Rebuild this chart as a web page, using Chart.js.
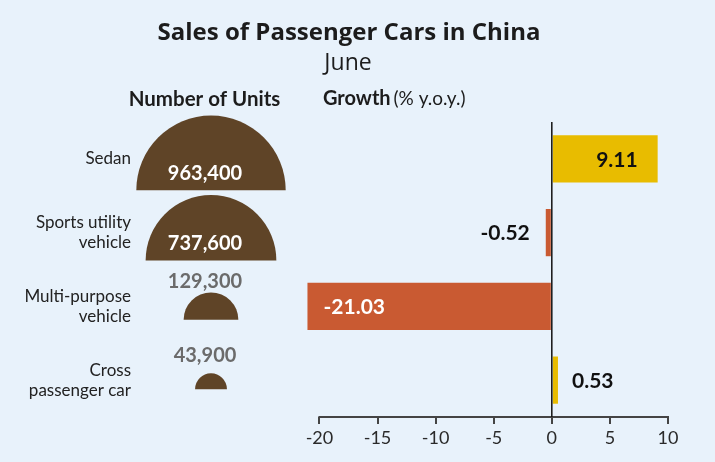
<!DOCTYPE html>
<html>
<head>
<meta charset="utf-8">
<script src="https://cdn.jsdelivr.net/npm/chart.js@4.4.0/dist/chart.umd.min.js"></script>
<style>
  html, body { margin: 0; padding: 0; background: #e8f2fb; }
  #wrap { width: 715px; height: 462px; }
</style>
</head>
<body>
<div id="wrap"><canvas id="myChart" width="715" height="462"></canvas></div>
<script>
// chart data
const categories = [['Sedan'], ['Sports utility', 'vehicle'], ['Multi-purpose', 'vehicle'], ['Cross', 'passenger car']];
const units = [963400, 737600, 129300, 43900];
const growth = [9.11, -0.52, -21.03, 0.53];
const xTicks = [-20, -15, -10, -5, 0, 5, 10];

const BG = '#e8f2fb';
const YELLOW = '#e8bc00';
const ORANGE = '#c95a32';
const BROWN = '#5f4427';
const FONT = 'Lato, "Liberation Sans", sans-serif';
const UNIT_X = 211;     // centre of the half circles
const UNIT_LABEL_X = 205;
const R_MAX = 74.7;     // radius of the largest half circle

// title, headers and background
const textPlugin = {
    id: 'texts',
    beforeDraw(chart){
        const ctx = chart.ctx;
        ctx.save();
        ctx.fillStyle = BG;
        ctx.fillRect(0, 0, chart.width, chart.height);
        ctx.fillStyle = '#1c1c1c';
        ctx.textBaseline = 'middle';
        ctx.textAlign = 'center';
        ctx.font = 'bold 24px "Open Sans", sans-serif';
        ctx.fillText('Sales of Passenger Cars in China', 349, 33);
        ctx.font = '23px "Open Sans", sans-serif';
        ctx.fillText('June', 348, 63);
        ctx.font = 'bold 20.5px ' + FONT;
        ctx.fillText('Number of Units', 204.5, 99);
        ctx.textAlign = 'left';
        ctx.font = 'bold 20px ' + FONT;
        ctx.fillText('Growth', 323, 99);
        const w = ctx.measureText('Growth ').width;
        ctx.font = '19px ' + FONT;
        ctx.fillText('(% y.o.y.)', 323 + w - 2, 99);
        ctx.restore();
    }
};

// half circles for number of units
const unitPlugin = {
    id: 'units',
    afterDraw(chart){
        const ctx = chart.ctx;
        const yScale = chart.scales.y;
        const maxU = Math.max(...units);
        ctx.save();
        units.forEach((u, i) => {
            const r = R_MAX * Math.sqrt(u / maxU);
            const cy = yScale.getPixelForValue(i);
            const base = cy + 0.38 * r + 3;
            ctx.beginPath();
            ctx.arc(UNIT_X, base, r, Math.PI, 0);
            ctx.closePath();
            ctx.fillStyle = BROWN;
            ctx.fill();
            ctx.textAlign = 'center';
            ctx.textBaseline = 'middle';
            ctx.font = 'bold 20px ' + FONT;
            const txt = u.toLocaleString('en-US');
            if(r > 40){
                ctx.fillStyle = '#ffffff';
                ctx.fillText(txt, UNIT_LABEL_X, base - 17);
            } else {
                ctx.fillStyle = '#6b6b6b';
                ctx.fillText(txt, UNIT_LABEL_X, cy - 24.5);
            }
        });
        ctx.restore();
    }
};

// zero line, axis line and bar values
const barPlugin = {
    id: 'barLabels',
    afterDatasetsDraw(chart){
        const ctx = chart.ctx;
        const xScale = chart.scales.x;
        const area = chart.chartArea;
        ctx.save();
        ctx.strokeStyle = '#444444';
        ctx.lineWidth = 2;
        ctx.beginPath();
        ctx.moveTo(xScale.getPixelForValue(xTicks[0]) - 1, area.bottom);
        ctx.lineTo(xScale.getPixelForValue(xTicks[xTicks.length - 1]) + 1, area.bottom);
        ctx.stroke();

        const x0 = xScale.getPixelForValue(0);
        ctx.strokeStyle = '#111111';
        ctx.lineWidth = 1.5;
        ctx.beginPath();
        ctx.moveTo(x0, area.top);
        ctx.lineTo(x0, area.bottom);
        ctx.stroke();

        ctx.font = 'bold 21px ' + FONT;
        ctx.textBaseline = 'middle';
        chart.getDatasetMeta(0).data.forEach((bar, i) => {
            const v = growth[i];
            const txt = v.toFixed(2);
            if(Math.abs(v) > 5){
                if(v > 0){
                    ctx.textAlign = 'right';
                    ctx.fillStyle = '#111111';
                    ctx.fillText(txt, bar.x - 20, bar.y + 1);
                } else {
                    ctx.textAlign = 'left';
                    ctx.fillStyle = '#ffffff';
                    ctx.fillText(txt, bar.x + 16, bar.y + 1);
                }
            } else {
                ctx.fillStyle = '#111111';
                if(v > 0){
                    ctx.textAlign = 'left';
                    ctx.fillText(txt, bar.x + 14, bar.y + 1);
                } else {
                    ctx.textAlign = 'right';
                    ctx.fillText(txt, bar.x - 16, bar.y + 1);
                }
            }
        });
        ctx.restore();
    }
};

document.addEventListener('DOMContentLoaded', function () {
    const ctx = document.getElementById('myChart').getContext('2d');
    new Chart(ctx, {
        type: 'bar',
        data: {
            labels: categories,
            datasets: [{
                data: growth,
                backgroundColor: growth.map(v => v >= 0 ? YELLOW : ORANGE),
                barPercentage: 0.64,
                categoryPercentage: 1
            }]
        },
        options: {
            indexAxis: 'y',
            responsive: false,
            animation: false,
            layout: {padding: {top: 122, right: 47, bottom: 0, left: 0}},
            plugins: {legend: {display: false}, tooltip: {enabled: false}},
            scales: {
                x: {
                    min: -21.5,
                    max: 10,
                    afterBuildTicks: s => { s.ticks = xTicks.map(v => ({value: v})); },
                    afterFit: s => { s.height = 45; s.paddingLeft = 0; s.paddingRight = 0; },
                    grid: {drawOnChartArea: false, drawTicks: true, tickLength: 7, color: '#444444', lineWidth: 2},
                    border: {display: false},
                    ticks: {color: '#2a2a2a', padding: 3, font: {family: FONT, size: 18}}
                },
                y: {
                    afterFit: s => { s.width = 302; s.paddingTop = 0; s.paddingBottom = 0; },
                    grid: {display: false, drawTicks: false},
                    border: {display: false},
                    ticks: {color: '#222222', padding: 171, font: {family: FONT, size: 17, lineHeight: 1.18}}
                }
            }
        },
        plugins: [textPlugin, unitPlugin, barPlugin]
    });
});
</script>
</body>
</html>
